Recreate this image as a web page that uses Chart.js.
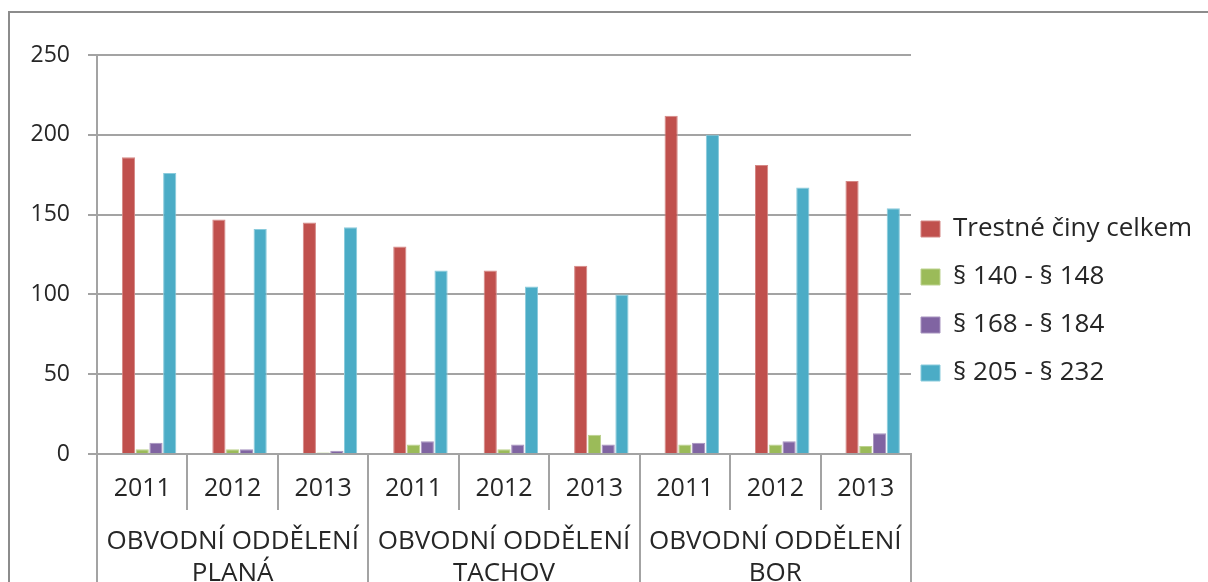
<!DOCTYPE html>
<html lang="cs">
<head>
    <meta charset="UTF-8">
    <title>Trestné činy podle obvodních oddělení</title>
    <script src="https://cdn.jsdelivr.net/npm/chart.js"></script>
    <style>
        html, body {
            margin: 0;
            padding: 0;
            background: #ffffff;
            overflow: hidden;
        }
        #frame {
            position: absolute;
            left: 8px;
            top: 11px;
            width: 1300px;
            height: 700px;
            border-left: 2px solid #8c8c8c;
            border-top: 2px solid #8c8c8c;
        }
        #chart {
            position: absolute;
            left: 0;
            top: 0;
        }
    </style>
</head>
<body>
    <div id="frame"></div>
    <canvas id="chart" width="1208" height="604"></canvas>

    <script>
        const years = ['2011', '2012', '2013', '2011', '2012', '2013', '2011', '2012', '2013'];
        const departments = [
            ['OBVODNÍ ODDĚLENÍ', 'PLANÁ'],
            ['OBVODNÍ ODDĚLENÍ', 'TACHOV'],
            ['OBVODNÍ ODDĚLENÍ', 'BOR']
        ];

        // first column of the source table is empty, it still takes a slot in every cluster
        const emptySeries = [null, null, null, null, null, null, null, null, null];
        const totalCrimes = [186, 147, 145, 130, 115, 118, 212, 181, 171];
        const par140_148 = [3, 3, 1, 6, 3, 12, 6, 6, 5];
        const par168_184 = [7, 3, 2, 8, 6, 6, 7, 8, 13];
        const par205_232 = [176, 141, 142, 115, 105, 100, 200, 167, 154];

        const yTicks = [0, 50, 100, 150, 200, 250];

        const font = "'Open Sans', sans-serif";
        const textColor = '#262626';
        const gridColor = '#a3a3a3';

        function series(label, data, fill, edge) {
            return {
                label: label,
                data: data,
                backgroundColor: fill,
                borderColor: edge,
                borderWidth: 1,
                borderSkipped: 'bottom'
            };
        }

        // pull the legend a bit closer to the plot and centre it on the upper part
        const legendNudge = {
            id: 'legendNudge',
            afterLayout(chart) {
                const lg = chart.legend;
                lg.left -= 12;
                lg.right -= 12;
                lg.bottom -= 57;
                lg.height -= 57;
            }
        };

        const ctx = document.getElementById('chart').getContext('2d');
        new Chart(ctx, {
            type: 'bar',
            data: {
                labels: years,
                datasets: [
                    series('', emptySeries, '#4F81BD', '#4F81BD'),
                    series('Trestné činy celkem', totalCrimes, '#C0504D', '#D58886'),
                    series('§ 140 - § 148', par140_148, '#9BBB59', '#BCD28F'),
                    series('§ 168 - § 184', par168_184, '#8064A2', '#A793BF'),
                    series('§ 205 - § 232', par205_232, '#4BACC6', '#8ACBDC')
                ]
            },
            plugins: [legendNudge],
            options: {
                responsive: false,
                animation: false,
                layout: {
                    padding: { left: 0, top: 55, right: 0, bottom: 0 }
                },
                datasets: {
                    bar: {
                        categoryPercentage: 0.76,
                        barPercentage: 0.96
                    }
                },
                plugins: {
                    title: { display: false },
                    tooltip: { enabled: false },
                    legend: {
                        position: 'right',
                        align: 'center',
                        maxWidth: 297,
                        labels: {
                            boxWidth: 19,
                            boxHeight: 16,
                            padding: 22,
                            color: textColor,
                            font: { family: font, size: 26 },
                            filter: item => item.text !== ''
                        }
                    }
                },
                scales: {
                    x: {
                        type: 'category',
                        position: 'bottom',
                        grid: {
                            offset: true,
                            drawOnChartArea: false,
                            tickLength: 56,
                            color: gridColor,
                            lineWidth: 2
                        },
                        border: { display: true, color: gridColor, width: 2 },
                        ticks: {
                            autoSkip: false,
                            maxRotation: 0,
                            padding: -36,
                            color: textColor,
                            font: { family: font, size: 25 }
                        },
                        afterFit: axis => {
                            axis.height = 50;
                            axis.paddingLeft = 0;
                            axis.paddingRight = 0;
                        }
                    },
                    x2: {
                        type: 'category',
                        position: 'bottom',
                        labels: departments,
                        offset: true,
                        grid: {
                            offset: true,
                            drawOnChartArea: false,
                            tickLength: 100,
                            color: gridColor,
                            lineWidth: 2
                        },
                        border: { display: false },
                        ticks: {
                            autoSkip: false,
                            maxRotation: 0,
                            padding: -79,
                            color: textColor,
                            font: { family: font, size: 26, lineHeight: 1.25 }
                        },
                        afterFit: axis => {
                            axis.height = 100;
                            axis.paddingLeft = 0;
                            axis.paddingRight = 0;
                        }
                    },
                    y: {
                        min: yTicks[0],
                        max: yTicks[yTicks.length - 1],
                        afterBuildTicks: axis => {
                            axis.ticks = yTicks.map(v => ({ value: v }));
                        },
                        afterFit: axis => {
                            axis.width = 97;
                        },
                        grid: {
                            color: gridColor,
                            lineWidth: 2,
                            tickLength: 9
                        },
                        border: { display: true, color: gridColor, width: 2 },
                        ticks: {
                            padding: 18,
                            color: textColor,
                            font: { family: font, size: 23 }
                        }
                    }
                }
            }
        });
    </script>
</body>
</html>
